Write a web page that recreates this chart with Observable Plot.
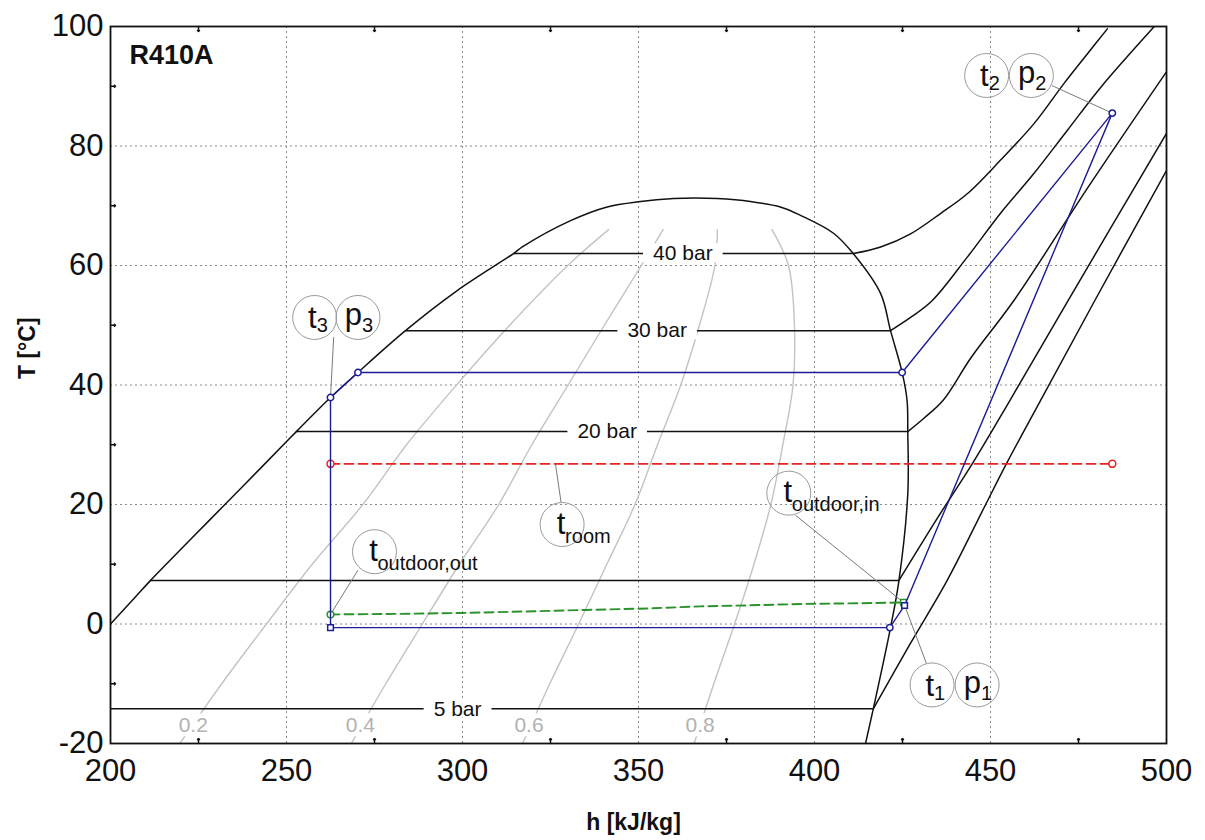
<!DOCTYPE html>
<html>
<head>
<meta charset="utf-8">
<script src="https://cdn.jsdelivr.net/npm/d3@7"></script>
<script src="https://cdn.jsdelivr.net/npm/@observablehq/plot@0.6"></script>
<style>
  html, body { margin: 0; padding: 0; background: #fff; }
</style>
</head>
<body>
<div id="chart"></div>
<script>
// ---------------- data ----------------
const xTicks = [200, 250, 300, 350, 400, 450, 500];
const yTicks = [-20, 0, 20, 40, 60, 80, 100];
const xMinorTicks = [225, 275, 325, 375, 425, 475];
const yMinorTicks = [-10, 10, 30, 50, 70, 90];
const xGrid = [250, 300, 350, 400, 450];
const yGrid = [0, 20, 40, 60, 80];

// saturation dome (liquid line up over the top and down the vapour line)
const domeH = [200, 206.8, 211.4, 222.5, 232.5, 243, 252.8, 262.5, 270.3, 283.8, 298.5, 314.5, 317, 330.7, 341.1, 350.6, 360, 366, 372.3, 381.8, 390.3, 396, 405.4, 411, 418.8, 421.6, 424.9, 426.3, 426.5, 426.5, 424, 421.6, 416.7, 414.5];
const domeT = [0, 4.35, 7.3, 14, 20, 26.3, 32.2, 37.9, 42.1, 49.1, 55.8, 62, 63.1, 67.5, 69.8, 70.7, 71.2, 71.3, 71.2, 70.7, 69.8, 68.4, 65.4, 62, 55.3, 49.1, 42.1, 37.4, 32.2, 21.8, 7.3, -0.6, -14.2, -20];

// isobars: two-phase (horizontal) part
const isobarNames = ["5 bar", "10 bar", "20 bar", "30 bar", "40 bar"];
const isobarSatT = [-14.2, 7.3, 32.2, 49.1, 62.0];
const isobarLiqH = [179, 211.4, 252.8, 283.8, 314.5];
const isobarVapH = [416.7, 424.0, 426.5, 421.6, 411.0];

// isobars: superheated part
const sh5H  = [416.7, 427, 437.7, 448.2, 454.5, 464.2, 479.6, 500];
const sh5T  = [-14.2, -3.5, 7.3, 19.5, 26.8, 37.4, 54.1, 75.9];
const sh10H = [424, 435, 444.8, 455.5, 472, 500];
const sh10T = [7.3, 17.8, 26.8, 37.4, 54.1, 82.1];
const sh20H = [426.5, 431, 436.5, 444.5, 456.6, 478.4, 500.2];
const sh20T = [32.2, 34.4, 37.4, 44.6, 54.1, 73.7, 92.6];
const sh30H = [421.6, 427.5, 433.4, 443.4, 452.8, 462.2, 471.8, 481.3, 496.4];
const sh30T = [49.1, 51.4, 54.1, 61.4, 68.7, 75.3, 82.6, 89.8, 99.9];
const sh40H = [411, 418.8, 427.3, 435.8, 443.4, 452.8, 462.3, 470.8, 477.5, 483.2];
const sh40T = [62, 63.1, 65.3, 68.7, 72, 77.6, 83.7, 90.4, 95.4, 99.6];

// constant quality lines
const qualityT   = [-20, -10, 0, 10, 20, 30, 40, 50, 60, 66];
const quality02H = [219.7, 231.6, 244.3, 257.3, 271.7, 284.1, 298.3, 313.4, 329.9, 341.5];
const quality04H = [268.4, 278.2, 288.6, 299.1, 310.3, 319.7, 330.0, 340.3, 350.8, 357.0];
const quality06H = [317.1, 324.8, 333.0, 341.0, 349.0, 355.4, 362.0, 367.3, 371.7, 372.4];
const quality08H = [365.8, 371.4, 377.3, 382.8, 387.6, 391.0, 393.9, 394.3, 392.6, 387.9];

// labels on isobars and quality lines
const isoLabelText = ["5 bar", "20 bar", "30 bar", "40 bar"];
const isoLabelH = [298.6, 341.1, 355.3, 362.6];
const isoLabelT = [-14.2, 32.2, 49.1, 62.0];
const qLabelText = ["0.2", "0.4", "0.6", "0.8"];
const qLabelH = [223.5, 271, 318.9, 367.5];
const qLabelT = [-17, -17, -17, -17];

// refrigeration cycle (blue)
const cycleH = [484.6, 424.9, 270.3, 262.5, 262.5, 421.4, 425.6, 484.6];
const cycleT = [85.5, 42.1, 42.1, 37.9, -0.6, -0.6, 3.1, 85.5];
const cycleSymbol = ["circle", "circle", "circle", "circle", "square", "circle", "square", "circle"];

// room temperature (red dashed)
const roomH = [262.5, 484.6];
const roomT = [26.8, 26.8];

// outdoor air temperature (green dashed)
const outdoorH = [262.5, 282.4, 300, 318, 335, 352.5, 367.6, 380, 396, 410, 425.3];
const outdoorT = [1.6, 1.7, 1.85, 2.1, 2.35, 2.6, 2.95, 3.1, 3.35, 3.45, 3.6];

// bubble annotations
const bubbleMain = ["t", "p", "t", "p", "t", "p", "t", "t", "t"];
const bubbleSub  = ["2", "2", "3", "3", "1", "1", "room", "outdoor,in", "outdoor,out"];
const bubbleH    = [448.9, 461.6, 258.0, 270.3, 433.4, 446.2, 328.3, 392.7, 275.0];
const bubbleT    = [91.8, 91.8, 51.3, 51.3, -10.2, -10.2, 16.65, 21.9, 12.1];

// leader lines (start near bubble, end at state point)
const leaderFromH = [467.5, 263.4, 431.8, 328.0, 394.6, 270.3];
const leaderFromT = [90.1, 48.0, -6.6, 20.4, 18.2, 9.0];
const leaderToH   = [484.6, 262.5, 425.6, 326.4, 425.3, 262.5];
const leaderToT   = [85.5, 37.9, 3.1, 26.8, 3.6, 1.6];

// ---------------- derived tables ----------------
const toRows = (H, T, key) => H.map((h, i) => ({h, T: T[i], key}));
const superheated = [
  ...toRows(sh5H, sh5T, "5"), ...toRows(sh10H, sh10T, "10"), ...toRows(sh20H, sh20T, "20"),
  ...toRows(sh30H, sh30T, "30"), ...toRows(sh40H, sh40T, "40")
];
const qualityLines = [
  ...toRows(quality02H, qualityT, "0.2"), ...toRows(quality04H, qualityT, "0.4"),
  ...toRows(quality06H, qualityT, "0.6"), ...toRows(quality08H, qualityT, "0.8")
];
const dome = toRows(domeH, domeT, "dome");
const cycle = cycleH.map((h, i) => ({h, T: cycleT[i], symbol: cycleSymbol[i]}));
const cyclePts = cycle.slice(0, -1);
const room = toRows(roomH, roomT, "room");
const outdoor = toRows(outdoorH, outdoorT, "outdoor");
const isoIdx = isobarNames.map((_, i) => i);
const isoLabels = isoLabelText.map((t, i) => ({t, h: isoLabelH[i], T: isoLabelT[i]}));
const qLabels = qLabelText.map((t, i) => ({t, h: qLabelH[i], T: qLabelT[i]}));
const bubbles = bubbleMain.map((m, i) => ({m, s: bubbleSub[i], h: bubbleH[i], T: bubbleT[i], kind: m === "p" ? "p" : (bubbleSub[i].length > 1 ? "long" : "t")}));
const leaders = leaderFromH.map((h, i) => ({h1: h, T1: leaderFromT[i], h2: leaderToH[i], T2: leaderToT[i]}));

const BLUE = "#1c1c96", RED = "#e6231e", GREEN = "#2a922a";
const mainFs = 31, subFs = 20;

const bubbleText = (kind, anchorMain, dxMain, dyMain, dxSub, dySub) => [
  Plot.text(bubbles.filter(d => d.kind === kind), {x: "h", y: "T", text: "m", fontSize: mainFs, textAnchor: anchorMain, dx: dxMain, dy: dyMain, lineAnchor: "bottom", fill: "#111"}),
  Plot.text(bubbles.filter(d => d.kind === kind), {x: "h", y: "T", text: "s", fontSize: subFs, textAnchor: "start", dx: dxSub, dy: dySub, lineAnchor: "bottom", fill: "#111"})
];

const chart = Plot.plot({
  width: 1205,
  height: 840,
  marginLeft: 110,
  marginRight: 39,
  marginTop: 26,
  marginBottom: 97,
  x: {domain: [200, 500], axis: null},
  y: {domain: [-20, 100], axis: null},
  style: {fontFamily: "'Liberation Sans', Arial, Helvetica, sans-serif", background: "white", overflow: "visible"},
  marks: [
    // grid
    Plot.ruleX(xGrid, {stroke: "#8a8a8a", strokeWidth: 1, strokeDasharray: "2,3"}),
    Plot.ruleY(yGrid, {stroke: "#8a8a8a", strokeWidth: 1, strokeDasharray: "2,3"}),
    // quality lines
    Plot.line(qualityLines, {x: "h", y: "T", z: "key", stroke: "#c3c3c3", strokeWidth: 1.4, curve: "catmull-rom", clip: true}),
    // isobars
    Plot.ruleY(isoIdx, {y: i => isobarSatT[i], x1: i => isobarLiqH[i], x2: i => isobarVapH[i], stroke: "#111", strokeWidth: 1.5, clip: true}),
    Plot.line(superheated, {x: "h", y: "T", z: "key", stroke: "#111", strokeWidth: 1.5, curve: "catmull-rom", clip: true}),
    // dome
    Plot.line(dome, {x: "h", y: "T", stroke: "#111", strokeWidth: 1.5, curve: "catmull-rom", clip: true}),
    // labels
    Plot.text(isoLabels, {x: "h", y: "T", text: "t", fontSize: 21, fill: "#111"}),
    Plot.text(qLabels, {x: "h", y: "T", text: "t", fontSize: 21, fill: "#b2b2b2"}),
    Plot.text(["R410A"], {frameAnchor: "top-left", text: d => d, dx: 19, dy: 37, fontSize: 27, fontWeight: "bold", textAnchor: "start", lineAnchor: "bottom", fill: "#111"}),
    // leaders & bubbles
    Plot.link(leaders, {x1: "h1", y1: "T1", x2: "h2", y2: "T2", stroke: "#7a7a7a", strokeWidth: 1}),
    Plot.dot(bubbles, {x: "h", y: "T", r: 22, stroke: "#9a9a9a", strokeWidth: 1, fill: "none"}),
    ...bubbleText("t", "end", 2, 11, 2, 15),
    ...bubbleText("p", "end", 4, 8, 4, 15),
    ...bubbleText("long", "middle", -1, 9, 3, 18),
    // room line
    Plot.line(room, {x: "h", y: "T", stroke: RED, strokeWidth: 1.8, strokeDasharray: "9,5"}),
    Plot.dot(room, {x: "h", y: "T", r: 3.5, stroke: RED, strokeWidth: 1.5, fill: "white"}),
    // outdoor line
    Plot.line(outdoor, {x: "h", y: "T", stroke: GREEN, strokeWidth: 1.9, strokeDasharray: "9,5"}),
    Plot.dot([outdoor[0]], {x: "h", y: "T", r: 3.3, stroke: GREEN, strokeWidth: 1.5, fill: "white"}),
    Plot.dot([outdoor[outdoor.length - 1]], {x: "h", y: "T", r: 3.3, symbol: "square", stroke: GREEN, strokeWidth: 1.5, fill: "white"}),
    // cycle
    Plot.line(cycle, {x: "h", y: "T", stroke: BLUE, strokeWidth: 1.4}),
    Plot.dot(cyclePts, {x: "h", y: "T", r: 3.2, symbol: "symbol", stroke: BLUE, strokeWidth: 1.5, fill: "white"}),
    // inner ticks
    Plot.vector(xMinorTicks, {x: d => d, y: () => -20, length: 5, rotate: 0, anchor: "start", stroke: "#111", strokeWidth: 1.5}),
    Plot.vector(xMinorTicks, {x: d => d, y: () => 100, length: 5, rotate: 180, anchor: "start", stroke: "#111", strokeWidth: 1.5}),
    Plot.vector(yMinorTicks, {x: () => 200, y: d => d, length: 5, rotate: 90, anchor: "start", stroke: "#111", strokeWidth: 1.5}),
    // frame
    Plot.frame({stroke: "#111", strokeWidth: 1.8}),
    // tick labels
    Plot.text(xTicks, {x: d => d, text: d => String(d), frameAnchor: "bottom", dy: 37, fontSize: 31, fill: "#111"}),
    Plot.text(yTicks, {y: d => d, text: d => String(d), frameAnchor: "left", dx: -7, textAnchor: "end", fontSize: 31, fill: "#111"}),
    // axis titles
    Plot.text(["T [°C]"], {frameAnchor: "left", text: d => d, dx: -83, dy: -6, rotate: -90, fontSize: 23, fontWeight: "bold", fill: "#111"}),
    Plot.text(["h [kJ/kg]"], {frameAnchor: "bottom", text: d => d, dx: -5, dy: 86, fontSize: 23, fontWeight: "bold", fill: "#111"})
  ]
});

document.getElementById("chart").append(chart);

// white boxes behind inline labels (gaps in the lines)
const NS = "http://www.w3.org/2000/svg";
function maskBehind(texts, px, py, fs) {
  chart.querySelectorAll("text").forEach(t => {
    if (!texts.includes(t.textContent)) return;
    let b;
    try { b = t.getBBox(); } catch (e) { b = null; }
    if (!b || !b.width) {
      const w = t.textContent.length * fs * 0.52;
      b = {x: -w / 2, y: -0.8 * fs, width: w, height: 1.1 * fs};
    }
    const r = document.createElementNS(NS, "rect");
    r.setAttribute("x", b.x - px);
    r.setAttribute("y", b.y - py);
    r.setAttribute("width", b.width + 2 * px);
    r.setAttribute("height", b.height + 2 * py);
    r.setAttribute("fill", "white");
    r.setAttribute("stroke", "none");
    const tr = t.getAttribute("transform");
    if (tr) r.setAttribute("transform", tr);
    t.parentNode.insertBefore(r, t);
  });
}
maskBehind(isoLabelText, 10, -2, 21);
maskBehind(qLabelText, 2, 0, 21);
</script>
</body>
</html>
